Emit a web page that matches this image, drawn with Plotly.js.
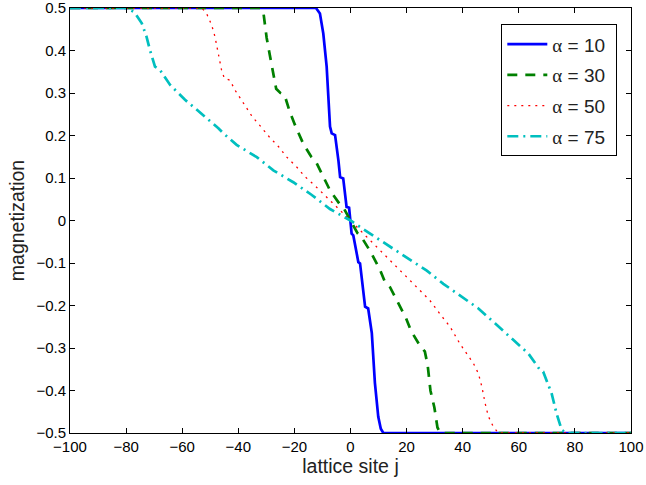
<!DOCTYPE html>
<html>
<head>
<meta charset="utf-8">
<script src="https://cdn.plot.ly/plotly-3.0.1.min.js"></script>
<style>html,body{margin:0;padding:0;background:#fff;}#chart{width:646px;height:485px;}</style>
</head>
<body>
<div id="chart"></div>
<script>
const x10 = [-100,-12.3,-10.9,-9.7,-8.5,-7.9,-7.3,-6.7,-5.5,-4.3,-3.7,-2.6,-1.4,-0.5,0.4,1.0,2.8,3.4,5.2,6.3,7.6,8.7,9.9,10.8,11.7,100];
const y10 = [0.5,0.5,0.487,0.44,0.362,0.284,0.221,0.205,0.201,0.141,0.102,0.099,0.032,0.03,-0.031,-0.035,-0.098,-0.101,-0.203,-0.207,-0.265,-0.382,-0.462,-0.49,-0.5,-0.5];

const x30 = [-100,-32,-31,-29.9,-28.5,-27.5,-26.5,-25,-23.5,-21.6,-19.8,-16.8,-14,-12.3,-10.3,-7.3,-4,-2.5,0,2.5,4,7.3,10.5,12.3,14.1,16.8,19.8,21.6,23.5,25,26.5,27.5,28.5,29.9,31,32,100];
const y30 = [0.5,0.5,0.487,0.43,0.38,0.34,0.31,0.3,0.295,0.255,0.225,0.18,0.15,0.138,0.11,0.071,0.04,0.03,0,-0.03,-0.04,-0.075,-0.116,-0.145,-0.157,-0.19,-0.23,-0.26,-0.28,-0.297,-0.308,-0.34,-0.4,-0.44,-0.487,-0.5,-0.5];

const x50 = [-100,-53,-51.3,-49.5,-48.3,-47.1,-46,-45,-43,-41,-38,-35,-32,-29,-25.7,-22.7,-19.2,-16.2,-12.7,-6,0,6,10.5,14.1,17.6,21.2,24.8,28.3,31.9,35.5,39,42,43.8,45.6,46.8,48,49.1,50.9,52.7,100];
const y50 = [0.5,0.5,0.487,0.46,0.432,0.395,0.355,0.335,0.33,0.305,0.276,0.244,0.221,0.197,0.174,0.149,0.126,0.103,0.082,0.04,0,-0.04,-0.07,-0.094,-0.118,-0.141,-0.165,-0.188,-0.22,-0.25,-0.29,-0.318,-0.336,-0.36,-0.39,-0.43,-0.46,-0.485,-0.5,-0.5];

const x75 = [-100,-80,-77,-74.4,-72.7,-71.5,-69.7,-67.9,-64.3,-59,-55.4,-52.5,-47.1,-45.3,-40.6,-33.4,-27.5,-20.4,-13.8,-7.3,0,6.3,12.9,20,27.2,33.1,39,45.6,51.5,57.5,63.4,67.6,68.7,71.7,73.5,75.3,77,100];
const y75 = [0.5,0.5,0.49,0.464,0.432,0.401,0.362,0.354,0.319,0.284,0.264,0.248,0.217,0.205,0.178,0.149,0.118,0.09,0.06,0.027,0,-0.028,-0.057,-0.087,-0.118,-0.149,-0.177,-0.207,-0.242,-0.277,-0.313,-0.352,-0.356,-0.407,-0.455,-0.493,-0.5,-0.5];

const alphaValues = ['10','30','50','75'];
const xTicks = [-100,-80,-60,-40,-20,0,20,40,60,80,100];
const yTicks = [-0.5,-0.4,-0.3,-0.2,-0.1,0,0.1,0.2,0.3,0.4,0.5];
const yTickText = ['−0.5','−0.4','−0.3','−0.2','−0.1','0','0.1','0.2','0.3','0.4','0.5'];
const xTickText = ['−100','−80','−60','−40','−20','0','20','40','60','80','100'];

const names = alphaValues.map(v => '<span style="font-family:\'Liberation Serif\',serif">α</span> = ' + v + ' ');

const traces = [
  {x:x10,y:y10,name:names[0],legendgroup:'a',mode:'lines',line:{color:'#0000ff',width:2.7}},
  {x:x30,y:y30,name:names[1],legendgroup:'b',mode:'lines',line:{color:'#008000',width:2.7,dash:'10px,8px'}},
  {x:x50,y:y50,name:names[2],legendgroup:'c',mode:'lines',line:{color:'#ff0000',width:1.3,dash:'2px,5px'}},
  {x:x75,y:y75,name:names[3],legendgroup:'d',mode:'lines',line:{color:'#00bfbf',width:2.7,dash:'11px,5px,2px,5px'}}
];

const fam = 'Liberation Sans, Arial, sans-serif';
const axisCommon = {
  showgrid:false, zeroline:false, showline:true, linecolor:'#000', linewidth:1,
  mirror:'ticks', ticks:'inside', ticklen:5, tickcolor:'#000', ticklabeloverflow:'allow',
  tickfont:{family:fam, size:15, color:'#000'}
};

const layout = {
  width:646, height:485,
  margin:{l:70, r:15, t:8, b:52},
  paper_bgcolor:'#fff', plot_bgcolor:'#fff',
  font:{family:fam, color:'#000'},
  xaxis:Object.assign({}, axisCommon, {range:[-100,100], tickvals:xTicks, ticktext:xTickText,
    title:{text:'lattice site j', font:{size:19.5, color:'#222'}, standoff:5}}),
  yaxis:Object.assign({}, axisCommon, {range:[-0.5,0.5], tickvals:yTicks, ticktext:yTickText,
    title:{text:'magnetization', font:{size:19.5, color:'#222'}, standoff:6}}),
  showlegend:true,
  legend:{x:0.9756, y:0.9616, xanchor:'right', yanchor:'top', bgcolor:'#fff', bordercolor:'#000', borderwidth:1,
    font:{size:19, family:fam, color:'#222'}, itemwidth:40, tracegroupgap:3}
};

Plotly.newPlot('chart', traces, layout, {displayModeBar:false, staticPlot:true});
</script>
</body>
</html>
